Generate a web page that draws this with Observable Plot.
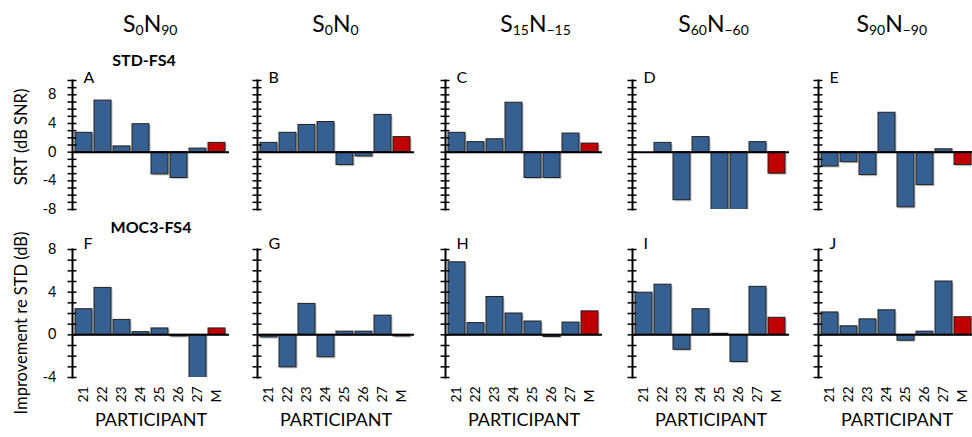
<!DOCTYPE html>
<html>
<head>
<meta charset="utf-8">
<script src="https://cdn.jsdelivr.net/npm/d3@7"></script>
<script src="https://cdn.jsdelivr.net/npm/@observablehq/plot@0.6"></script>
<style>
  html, body { margin: 0; padding: 0; background: #fff; }
  #chart { position: relative; width: 972px; height: 437px; overflow: hidden; font-family: Lato, "Open Sans", sans-serif; }
  #chart > div.panel { position: absolute; }
  #chart > div.panel svg { max-width: none !important; }
  #overlay { position: absolute; left: 0; top: 0; pointer-events: none; }
</style>
</head>
<body>
<div id="chart"></div>
<script>
// ---------------- data ----------------
const participants = ["21", "22", "23", "24", "25", "26", "27", "M"];
const conditions = [
  {main: "S", s1: "0", n: "N", s2: "90"},
  {main: "S", s1: "0", n: "N", s2: "0"},
  {main: "S", s1: "15", n: "N", s2: "\u221215"},
  {main: "S", s1: "60", n: "N", s2: "\u221260"},
  {main: "S", s1: "90", n: "N", s2: "\u221290"}
];
const topLetters = ["A", "B", "C", "D", "E"];
const bottomLetters = ["F", "G", "H", "I", "J"];

// STD-FS4: SRT (dB SNR)
const stdS0N90   = [2.7, 7.2, 0.8, 3.9, -3.1, -3.6, 0.5, 1.3];
const stdS0N0    = [1.3, 2.7, 3.8, 4.2, -1.8, -0.6, 5.2, 2.1];
const stdS15N15  = [2.7, 1.4, 1.8, 6.9, -3.6, -3.6, 2.6, 1.2];
const stdS60N60  = [0, 1.3, -6.7, 2.1, -9, -9, 1.4, -3.0];
const stdS90N90  = [-2.0, -1.4, -3.2, 5.5, -7.7, -4.6, 0.4, -1.8];

// MOC3-FS4: improvement re STD (dB)
const mocS0N90   = [2.4, 4.4, 1.4, 0.25, 0.6, -0.15, -4.5, 0.6];
const mocS0N0    = [-0.25, -3.05, 2.9, -2.1, 0.3, 0.3, 1.8, -0.15];
const mocS15N15  = [6.8, 1.1, 3.55, 2.0, 1.25, -0.2, 1.15, 2.2];
const mocS60N60  = [3.95, 4.7, -1.4, 2.4, 0.1, -2.55, 4.5, 1.6];
const mocS90N90  = [2.1, 0.8, 1.45, 2.3, -0.55, 0.3, 5.0, 1.65];

const topTicks = [-8, -4, 0, 4, 8];
const bottomTicks = [-4, 0, 4, 8];

// ---------------- layout ----------------
const stdSeries = [stdS0N90, stdS0N0, stdS15N15, stdS60N60, stdS90N90];
const mocSeries = [mocS0N90, mocS0N0, mocS15N15, mocS60N60, mocS90N90];
const axisX = [72, 257, 445, 632, 818];
const titleX = [150.3, 335.5, 535.5, 713.5, 891.8];
const frameW = 157;
const mL = 30, mR = 6;
const BLUE = "#376092", RED = "#C00000";
const FONT = "Lato, 'Open Sans', sans-serif";

const chart = document.getElementById("chart");

function panel(values, row, col) {
  const data = participants.map((p, i) => ({p, v: values[i]}));
  const isTop = row === 0;
  const domain = isTop ? [-8, 10] : [-4, 8];
  const minor = d3.range(domain[0], domain[1] + 1, 1);
  const height = isTop ? 145 : 198;
  const width = mL + frameW + mR;
  const marginTop = 10;
  const marginBottom = isTop ? 6 : 60;
  const marks = [
    // bar shadow
    Plot.barY(data, {x: "p", y: "v", fill: "#9a9a9a", fillOpacity: 0.55, dx: 1.6, dy: 1.6, clip: true}),
    Plot.barY(data, {x: "p", y: "v", fill: d => d.p === "M" ? RED : BLUE, stroke: "#202020", strokeWidth: 1, clip: true}),
    Plot.ruleY([0], {stroke: "black", strokeWidth: 2}),
    Plot.frame({anchor: "left", stroke: "black", strokeWidth: 2}),
    Plot.axisY({ticks: minor, tickSize: 9, dx: 4.5, tickFormat: () => "", label: null, strokeWidth: 1.5, stroke: "black"}),
    Plot.text([isTop ? topLetters[col] : bottomLetters[col]], {
      frameAnchor: "top-left", dx: 11, dy: isTop ? -2.5 : -5.5, textAnchor: "start", lineAnchor: "middle",
      fontSize: 16, fill: "black"
    })
  ];
  if (col === 0) {
    marks.push(Plot.axisY({ticks: isTop ? topTicks : bottomTicks, tickSize: 0, tickPadding: 16, label: null,
      tickFormat: d => String(d), fontSize: 14.5, fill: "black"}));
  }
  if (!isTop) {
    marks.push(Plot.text(participants, {x: d => d, frameAnchor: "bottom", rotate: -90, textAnchor: "start",
      lineAnchor: "middle", dy: 25, fontSize: 14, fill: "black"}));
    marks.push(Plot.text(["PARTICIPANT"], {frameAnchor: "bottom", dy: 43, fontSize: 18, fill: "black", lineAnchor: "middle"}));
  }
  const svg = Plot.plot({
    width,
    height,
    marginLeft: mL, marginRight: mR, marginTop, marginBottom,
    x: {domain: participants, paddingInner: 0.1, paddingOuter: 0.02, axis: null},
    y: {domain, axis: null},
    color: {type: "identity"},
    style: {fontFamily: FONT, color: "black", background: "transparent", overflow: "visible", maxWidth: "none"},
    marks
  });
  const div = document.createElement("div");
  div.className = "panel";
  div.style.left = (axisX[col] - mL) + "px";
  div.style.top = (isTop ? 70 : 239) + "px";
  div.style.width = width + "px";
  div.style.height = height + "px";
  div.appendChild(svg);
  chart.appendChild(div);
}

stdSeries.forEach((vals, c) => panel(vals, 0, c));
mocSeries.forEach((vals, c) => panel(vals, 1, c));

// ---------------- annotation text ----------------
const ns = "http://www.w3.org/2000/svg";
const ov = document.createElementNS(ns, "svg");
ov.setAttribute("id", "overlay");
ov.setAttribute("width", 972);
ov.setAttribute("height", 437);
ov.style.fontFamily = FONT;
function addText(x, y, str, attrs) {
  const t = document.createElementNS(ns, "text");
  t.setAttribute("x", x); t.setAttribute("y", y);
  for (const k in attrs) t.setAttribute(k, attrs[k]);
  if (str != null) t.textContent = str;
  ov.appendChild(t);
  return t;
}
function tspan(parent, str, attrs) {
  const s = document.createElementNS(ns, "tspan");
  for (const k in attrs) s.setAttribute(k, attrs[k]);
  s.textContent = str;
  parent.appendChild(s);
}
conditions.forEach((c, i) => {
  const t = addText(titleX[i], 31.7, null, {"text-anchor": "middle", "font-size": 23, fill: "black"});
  tspan(t, c.main, {});
  tspan(t, c.s1, {"font-size": 14, dy: 3});
  tspan(t, c.n, {dy: -3});
  tspan(t, c.s2, {"font-size": 14, dy: 3});
});
addText(144, 65.7, "STD-FS4", {"text-anchor": "middle", "font-size": 16, "font-weight": "bold", fill: "black"});
addText(151, 233.3, "MOC3-FS4", {"text-anchor": "middle", "font-size": 16, "font-weight": "bold", fill: "black"});
addText(0, 0, "SRT (dB SNR)", {"text-anchor": "middle", "dominant-baseline": "central", "font-size": 16.5, fill: "black",
  transform: "translate(20.5,137) rotate(-90)"});
addText(0, 0, "Improvement re STD (dB)", {"text-anchor": "middle", "dominant-baseline": "central", "font-size": 16.5, fill: "black",
  transform: "translate(21,323) rotate(-90)"});
chart.appendChild(ov);
</script>
</body>
</html>
